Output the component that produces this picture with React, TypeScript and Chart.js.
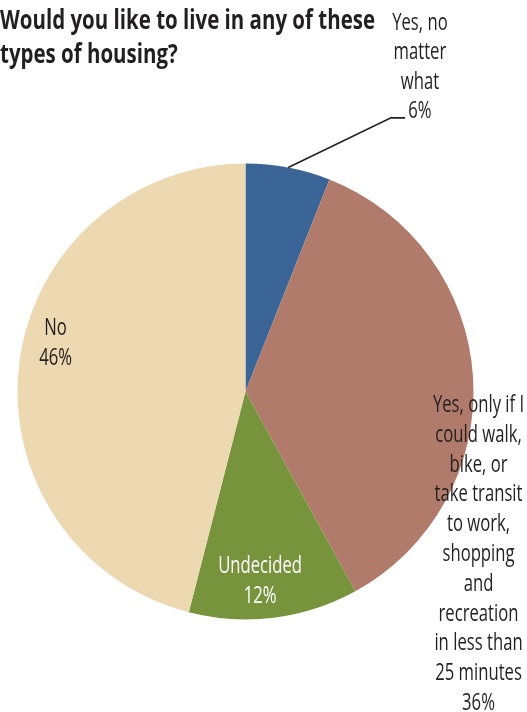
import React, { useEffect, useRef } from "react";
import { Chart, registerables } from "chart.js";

Chart.register(...registerables);

const categories = ["Yes, no matter what", "Yes, only if I could walk, bike, or take transit to work, shopping and recreation in less than 25 minutes", "Undecided", "No"];
const values = [6, 36, 12, 46];
const colors = ["#3B6596", "#B07B6B", "#77943D", "#ECD8B1"];
const labelLines = [
  ["Yes, no", "matter", "what", "6%"],
  ["Yes, only if I", "could walk,", "bike, or", "take transit", "to work,", "shopping", "and", "recreation", "in less than", "25 minutes", "36%"],
  ["Undecided", "12%"],
  ["No", "46%"],
];
const titleLines = ["Would you like to live in any of these", "types of housing?"];

const FONT = "'Open Sans', 'Noto Sans', sans-serif";
const TEXT = "#231f20";

// label anchors (first-line baseline) relative to pie center, in units of radius
const labelPos = [
  { fx: 0.765, fy: -1.586, lh: 29.5, color: TEXT },
  { fx: 1.022, fy: 0.09, lh: 29.8, color: TEXT },
  { fx: 0.064, fy: 0.796, lh: 30, color: "#ffffff" },
  { fx: -0.833, fy: -0.248, lh: 30, color: TEXT },
];

const labelPlugin = {
  id: "labelPlugin",
  afterDraw(chart: any) {
    const ctx = chart.ctx;
    const meta = chart.getDatasetMeta(0);
    const arc0 = meta.data[0];
    const cx = arc0.x;
    const cy = arc0.y;
    const r = arc0.outerRadius;
    ctx.save();
    ctx.textBaseline = "alphabetic";

    // title
    ctx.font = `bold 26px ${FONT}`;
    const tw = ctx.measureText(titleLines[0]).width;
    const ts = 375 / tw;
    ctx.fillStyle = TEXT;
    ctx.textAlign = "left";
    titleLines.forEach((t, i) => {
      ctx.save();
      ctx.translate(0, 29.3 + i * 34);
      ctx.scale(ts, 1);
      ctx.fillText(t, 0, 0);
      ctx.restore();
    });

    // slice labels
    ctx.font = `24px ${FONT}`;
    const ls = 88 / ctx.measureText("take transit").width;
    ctx.textAlign = "center";
    labelLines.forEach((lines, i) => {
      const p = labelPos[i];
      const x = cx + p.fx * r;
      const y0 = cy + p.fy * r;
      ctx.fillStyle = p.color;
      lines.forEach((t, j) => {
        ctx.save();
        ctx.translate(x, y0 + j * p.lh);
        ctx.scale(ls, 1);
        ctx.fillText(t, 0, 0);
        ctx.restore();
      });
    });

    // leader line for the small slice
    const mid = (arc0.startAngle + arc0.endAngle) / 2;
    const sx = cx + Math.cos(mid) * r;
    const sy = cy + Math.sin(mid) * r;
    ctx.strokeStyle = TEXT;
    ctx.lineWidth = 1.6;
    ctx.beginPath();
    ctx.moveTo(sx, sy);
    ctx.lineTo(cx + 0.638 * r, cy - 1.2 * r);
    ctx.lineTo(cx + 0.7 * r, cy - 1.2 * r);
    ctx.stroke();
    ctx.restore();
  },
};

export default function App() {
  const ref = useRef<HTMLCanvasElement>(null);
  useEffect(() => {
    if (!ref.current) return;
    const chart = new Chart(ref.current, {
      type: "pie",
      data: {
        labels: categories,
        datasets: [
          {
            data: values,
            backgroundColor: colors,
            borderWidth: 0,
          },
        ],
      },
      options: {
        responsive: false,
        animation: false,
        layout: { padding: { left: 17.5, right: 53.5, top: 163.5, bottom: 92.5 } },
        plugins: {
          legend: { display: false },
          title: { display: false },
          tooltip: { enabled: false },
        },
      },
      plugins: [labelPlugin],
    });
    return () => chart.destroy();
  }, []);
  return (
    <div style={{ position: "fixed", left: 0, top: 0, width: 527, height: 712, background: "#fff", overflow: "hidden" }}>
      <canvas ref={ref} width={527} height={712} style={{ position: "absolute", left: 0, top: 0 }} />
    </div>
  );
}
